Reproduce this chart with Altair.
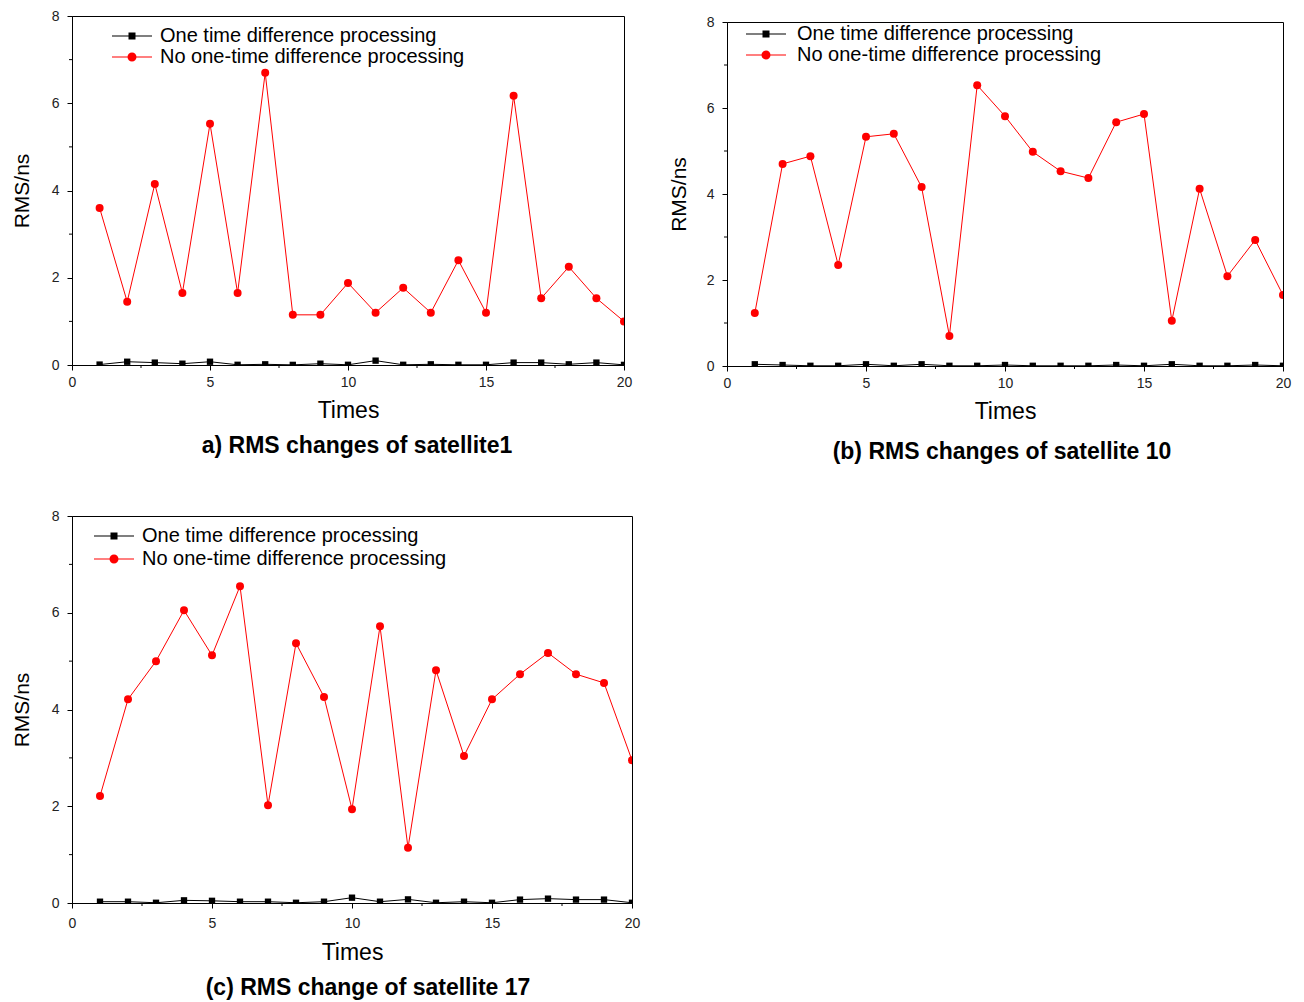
import altair as alt
import pandas as pd

FONT = "Liberation Sans"

times = list(range(1, 21))
series_names = ["One time difference processing", "No one-time difference processing"]

sat1_one = [0.01, 0.075, 0.055, 0.03, 0.075, 0.005, 0.016, 0.003, 0.03, 0.005,
            0.1, 0.005, 0.016, 0.005, 0.005, 0.055, 0.055, 0.016, 0.055, 0.003]
sat1_no = [3.6, 1.45, 4.15, 1.65, 5.53, 1.65, 6.7, 1.15, 1.15, 1.88,
           1.2, 1.77, 1.2, 2.4, 1.2, 6.17, 1.53, 2.25, 1.53, 1.0]

sat10_one = [0.04, 0.023, 0.005, 0.005, 0.04, 0.005, 0.04, 0.005, 0.005, 0.023,
             0.005, 0.005, 0.005, 0.023, 0.005, 0.04, 0.005, 0.005, 0.023, 0.005]
sat10_no = [1.23, 4.7, 4.88, 2.35, 5.33, 5.4, 4.16, 0.7, 6.53, 5.81,
            4.98, 4.53, 4.37, 5.67, 5.86, 1.05, 4.12, 2.09, 2.93, 1.65]

sat17_one = [0.027, 0.027, 0.005, 0.055, 0.045, 0.027, 0.027, 0.005, 0.027, 0.11,
             0.027, 0.075, 0.005, 0.027, 0.005, 0.07, 0.09, 0.07, 0.07, 0.005]
sat17_no = [2.21, 4.21, 5.0, 6.05, 5.12, 6.55, 2.02, 5.37, 4.26, 1.94,
            5.72, 1.14, 4.81, 3.04, 4.21, 4.73, 5.17, 4.73, 4.55, 2.95]

y_ticks = [0, 2, 4, 6, 8]
y_minor = [1, 3, 5, 7]
x_ticks = [0, 5, 10, 15, 20]
x_minor = [2.5, 7.5, 12.5, 17.5]

captions = ["a) RMS changes of satellite1",
            "(b) RMS changes of satellite 10",
            "(c) RMS change of satellite 17"]

# legend symbols: thin line with marker in the middle
legend_paths = [
    "M-4,-0.12H4V0.12H-4Z M-0.7,-0.7H0.7V0.7H-0.7Z",
    "M-4,-0.12H4V0.12H-4Z M-0.9,0A0.9,0.9 0 1,1 0.9,0A0.9,0.9 0 1,1 -0.9,0Z",
]


def panel(one, no, caption, w, h, leg_x, leg_y, leg_off, row_pad,
          y_title_pad, x_label_pad, x_title_pad, cap_offset, cap_dx=0):
    df = pd.DataFrame({
        "Times": times * 2,
        "RMS": one + no,
        "series": [series_names[0]] * len(one) + [series_names[1]] * len(no),
    })
    xscale = alt.Scale(domain=[0, 20], nice=False, zero=False)
    yscale = alt.Scale(domain=[0, 8], nice=False)
    xaxis = alt.Axis(
        values=x_ticks, title="Times", grid=False, format="d",
        titleFont=FONT, titleFontSize=23, titleFontWeight="normal", titleColor="black",
        labelFont=FONT, labelFontSize=14, labelColor="#222", labelFlush=False,
        labelPadding=x_label_pad, titlePadding=x_title_pad,
        tickColor="black", tickSize=5, domainColor="black")
    yaxis = alt.Axis(
        values=y_ticks, title="RMS/ns", grid=False, format="d",
        titleFont=FONT, titleFontSize=21, titleFontWeight="normal", titleColor="black",
        labelFont=FONT, labelFontSize=14, labelColor="#222", labelFlush=False,
        labelPadding=8, titlePadding=y_title_pad,
        tickColor="black", tickSize=5, domainColor="black")
    x = alt.X("Times:Q", scale=xscale, axis=xaxis)
    y = alt.Y("RMS:Q", scale=yscale, axis=yaxis)
    base = alt.Chart(df).encode(x=x, y=y)

    red_line = base.transform_filter(alt.datum.series == series_names[1]).mark_line(
        color="red", strokeWidth=1, clip=True)
    black_line = base.transform_filter(alt.datum.series == series_names[0]).mark_line(
        color="black", strokeWidth=1, clip=True)
    red_pts = base.transform_filter(alt.datum.series == series_names[1]).mark_circle(
        color="red", size=64, opacity=1, clip=True)
    black_pts = base.transform_filter(alt.datum.series == series_names[0]).mark_square(
        color="black", size=40, opacity=1, clip=True)

    leg = alt.Legend(orient="none", legendX=leg_x, legendY=leg_y, title=None,
                     labelFont=FONT, labelFontSize=20, labelColor="black",
                     labelLimit=500, symbolSize=100, symbolStrokeWidth=0,
                     labelOffset=leg_off, rowPadding=row_pad, padding=0)
    legend_layer = base.transform_filter("false").mark_point(filled=True, opacity=1).encode(
        color=alt.Color("series:N", scale=alt.Scale(domain=series_names, range=["black", "red"]),
                        legend=leg),
        shape=alt.Shape("series:N", scale=alt.Scale(domain=series_names, range=legend_paths),
                        legend=leg),
    )

    ymin = alt.Chart(pd.DataFrame({"RMS": y_minor})).mark_rule(color="black", strokeWidth=1).encode(
        y=alt.Y("RMS:Q", scale=yscale, axis=yaxis), x=alt.value(-3), x2=alt.value(0))
    xmin = alt.Chart(pd.DataFrame({"Times": x_minor})).mark_rule(color="black", strokeWidth=1).encode(
        x=alt.X("Times:Q", scale=xscale, axis=xaxis), y=alt.value(h), y2=alt.value(h + 3))

    return alt.layer(black_line, red_line, black_pts, red_pts, legend_layer, ymin, xmin).properties(
        width=w, height=h,
        title=alt.TitleParams(text=caption, orient="bottom", anchor="middle", font=FONT,
                              fontSize=23, fontWeight="bold", color="black",
                              offset=cap_offset, dx=cap_dx),
    )


def spacer():
    return alt.Chart(pd.DataFrame({"s": [0]})).mark_point(opacity=0, size=0).encode(
        x=alt.value(0), y=alt.value(0)).properties(
        width=1, height=1, view=alt.ViewBackground(strokeOpacity=0))


def indep(c):
    return c.resolve_scale(color="independent", shape="independent").resolve_legend(
        color="independent", shape="independent")


pa = panel(sat1_one, sat1_no, captions[0], 552, 349,
           leg_x=50, leg_y=10, leg_off=18, row_pad=1,
           y_title_pad=19, x_label_pad=5, x_title_pad=10, cap_offset=13, cap_dx=9)
pb = panel(sat10_one, sat10_no, captions[1], 556, 344,
           leg_x=29, leg_y=2, leg_off=21, row_pad=1,
           y_title_pad=17, x_label_pad=5, x_title_pad=10, cap_offset=18, cap_dx=-3)
pc = panel(sat17_one, sat17_no, captions[2], 560, 387,
           leg_x=32, leg_y=10, leg_off=18, row_pad=3,
           y_title_pad=19, x_label_pad=8, x_title_pad=11, cap_offset=13, cap_dx=16)

bcol = indep(alt.concat(spacer(), pb, columns=1, spacing=-3))
top = indep(alt.concat(pa, bcol, columns=2, spacing=34))

chart = indep(alt.concat(top, pc, columns=1, spacing=43)).properties(
    padding={"left": 2, "top": 0, "right": 2, "bottom": 2}, background="white"
).configure_view(stroke="black", strokeWidth=1)

chart.save("out.html", embed_options={"renderer": "svg", "actions": False})
